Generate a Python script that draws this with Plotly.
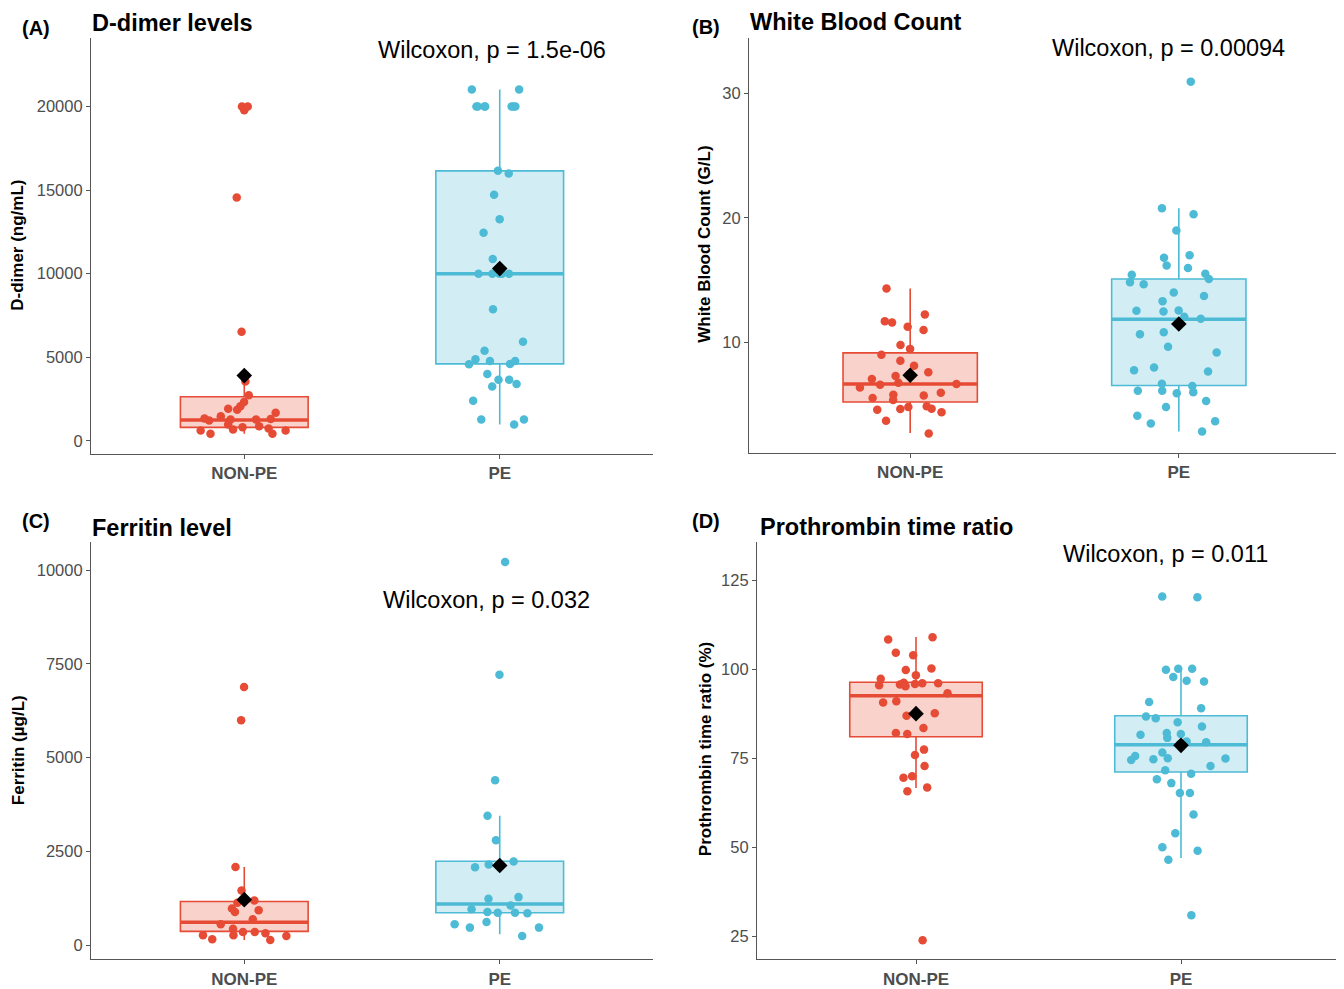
import plotly.graph_objects as go

categories = ["NON-PE", "PE"]

# ---- (A) D-dimer (ng/mL)
ddimer_nonpe = [20000, 19780, 20000, 14560, 6530, 3550, 2720, 2320, 2060, 1860, 1920, 1670,
                1470, 1330, 1310, 1270, 1270, 1210, 970, 870, 810, 675, 615, 420, 420, 615, 730]
ddimer_pe = [21010, 21010, 20000, 20000, 20000, 20000, 20000, 20000, 20000, 16150, 15990, 14720,
             13260, 12440, 10875, 10000, 10000, 10000, 10000, 10000, 7875, 5930, 5380, 4780, 4580,
             4600, 4880, 4780, 3990, 3650, 3650, 3390, 3250, 2400, 1270, 1270, 970]
ddimer_q1 = [800, 4600]
ddimer_median = [1250, 10000]
ddimer_q3 = [2630, 16150]
ddimer_low = [420, 970]
ddimer_high = [3550, 21010]
ddimer_mean = [3900, 10300]

# ---- (B) White blood count (G/L)
wbc_nonpe = [14.32, 12.24, 11.70, 11.25, 11.6, 10.99, 9.79, 9.47, 8.99, 8.51, 8.11, 7.6, 7.41,
             7.28, 7.04, 6.59, 6.64, 6.75, 6.37, 5.73, 5.94, 5.79, 5.36, 5.52, 4.85, 4.64, 4.8,
             4.37, 4.66, 4.58, 3.7, 2.66]
wbc_pe = [30.96, 20.77, 20.29, 18.98, 16.8, 17.0, 15.97, 16.18, 15.52, 15.09, 15.44, 14.66, 14.82,
          14.0, 13.73, 13.31, 12.53, 12.48, 12.56, 12.05, 11.89, 11.52, 10.8, 10.64, 9.65, 9.17,
          7.97, 7.76, 7.65, 6.67, 6.48, 6.11, 6.11, 5.9, 5.98, 5.28, 4.8, 4.1, 3.66, 3.46, 2.82]
wbc_q1 = [5.2, 6.53]
wbc_median = [6.65, 11.86]
wbc_q3 = [9.15, 15.09]
wbc_low = [2.7, 2.82]
wbc_high = [14.32, 20.77]
wbc_mean = [7.35, 11.47]

# ---- (C) Ferritin (µg/L)
ferritin_nonpe = [6885, 6000, 2087, 1460, 1195, 1131, 929, 982, 884, 690, 558, 441, 353, 353,
                  319, 247, 141, 159, 266, 266]
ferritin_pe = [10220, 7210, 4400, 3450, 2796, 2230, 2150, 2080, 1237, 1282, 1062, 956, 866, 866,
               850, 884, 558, 469, 619, 469, 247]
ferritin_q1 = [370, 866]
ferritin_median = [610, 1097]
ferritin_q3 = [1165, 2240]
ferritin_low = [141, 290]
ferritin_high = [2087, 3450]
ferritin_mean = [1215, 2124]

# ---- (D) Prothrombin time ratio (%)
pt_nonpe = [108.96, 108.3, 104.6, 103.9, 100.2, 98.25, 99.75, 97.3, 96.0, 95.7, 96.0, 95.5, 95.8,
            95.2, 96.2, 93.2, 91.0, 90.6, 87.6, 86.9, 83.5, 81.8, 82.1, 77.4, 75.9, 72.8, 69.9,
            69.5, 66.8, 65.7, 23.9]
pt_pe = [120.2, 120.4, 100.1, 99.8, 100.1, 97.8, 96.7, 96.5, 90.8, 89.0, 86.7, 85.1, 86.2, 83.9,
         82.1, 81.6, 81.8, 79.5, 80.7, 79.7, 79.0, 75.6, 74.7, 74.9, 74.5, 75.0, 72.8, 76.6, 71.6,
         70.6, 69.1, 68.0, 65.2, 65.2, 59.2, 53.9, 50.0, 49.0, 46.5, 30.9]
pt_q1 = [81.0, 71.1]
pt_median = [92.5, 78.8]
pt_q3 = [96.3, 86.9]
pt_low = [66.6, 47.0]
pt_high = [109.0, 100.0]
pt_mean = [87.5, 78.6]

panel_letters = ["(A)", "(B)", "(C)", "(D)"]
panel_titles = ["D-dimer levels", "White Blood Count", "Ferritin level", "Prothrombin time ratio"]
y_titles = ["D-dimer (ng/mL)", "White Blood Count (G/L)", "Ferritin (µg/L)", "Prothrombin time ratio (%)"]
p_labels = ["Wilcoxon, p = 1.5e-06", "Wilcoxon, p = 0.00094", "Wilcoxon, p = 0.032", "Wilcoxon, p = 0.011"]

# ---------------------------------------------------------------- styling / layout
# The page body has an 8px default margin, so the figure is drawn 8px in from the
# window corner; reference pixel positions are mapped accordingly.
OFF = 8
W, H = 1344 - OFF, 989 - OFF
RED, BLUE = "#E64B35", "#4DBBD5"
COLORS = [RED, BLUE]
FILLS = ["rgba(230,75,53,0.25)", "rgba(77,187,213,0.25)"]
FONT = "Liberation Sans, Arial, sans-serif"
AXIS_COLOR = "#555555"
TICK_COLOR = "#4d4d4d"
BOX_W = 0.5
TITLE_SIZE = 23.5


def fx(p):
    return (p - OFF) / W


def fy(p):
    return 1 - (p - OFF) / H


panels = [
    dict(samples=[ddimer_nonpe, ddimer_pe], q1=ddimer_q1, med=ddimer_median, q3=ddimer_q3,
         lo=ddimer_low, hi=ddimer_high, mean=ddimer_mean,
         xpx=(91, 653), ypx=(38, 456), yrange=(-774, 24107), dtick=5000,
         letter_xy=(36, 28), title_xy=(91, 20), ytitle_xy=(18, 247), p_xy=(492, 50)),
    dict(samples=[wbc_nonpe, wbc_pe], q1=wbc_q1, med=wbc_median, q3=wbc_q3,
         lo=wbc_low, hi=wbc_high, mean=wbc_mean,
         xpx=(749, 1340), ypx=(38, 455), yrange=(1.12, 34.48), dtick=10,
         letter_xy=(706, 27), title_xy=(749, 19), ytitle_xy=(705, 246), p_xy=(1168, 48)),
    dict(samples=[ferritin_nonpe, ferritin_pe], q1=ferritin_q1, med=ferritin_median, q3=ferritin_q3,
         lo=ferritin_low, hi=ferritin_high, mean=ferritin_mean,
         xpx=(91, 653), ypx=(545, 964), yrange=(-371, 10743), dtick=2500,
         letter_xy=(36, 524), title_xy=(91, 528), ytitle_xy=(18, 754), p_xy=(486, 603)),
    dict(samples=[pt_nonpe, pt_pe], q1=pt_q1, med=pt_median, q3=pt_q3,
         lo=pt_low, hi=pt_high, mean=pt_mean,
         xpx=(757, 1340), ypx=(545, 964), yrange=(18.6, 135.6), dtick=25,
         letter_xy=(706, 524), title_xy=(759, 527), ytitle_xy=(705, 753), p_xy=(1165, 557)),
]

fig = go.Figure()
shapes = []
annotations = []
layout_axes = {}

for i, pnl in enumerate(panels):
    sfx = "" if i == 0 else str(i + 1)
    xa, ya = "x" + sfx, "y" + sfx
    for g in range(len(categories)):
        # summary box (stats)
        fig.add_trace(go.Box(
            x=[g], q1=[pnl["q1"][g]], median=[pnl["med"][g]], q3=[pnl["q3"][g]],
            lowerfence=[pnl["lo"][g]], upperfence=[pnl["hi"][g]],
            width=BOX_W, fillcolor=FILLS[g], line=dict(color=COLORS[g], width=1.6),
            whiskerwidth=0, boxpoints=False, orientation="v",
            xaxis=xa, yaxis=ya, showlegend=False, hoverinfo="skip"))
        # thick median line (drawn below the semi-transparent box)
        shapes.append(dict(type="line", xref=xa, yref=ya, layer="below",
                           x0=g - BOX_W / 2, x1=g + BOX_W / 2,
                           y0=pnl["med"][g], y1=pnl["med"][g],
                           line=dict(color=COLORS[g], width=3.5)))
        # jittered individual points
        fig.add_trace(go.Box(
            y=pnl["samples"][g], x0=g, width=BOX_W, boxpoints="all", jitter=0.85, pointpos=0,
            fillcolor="rgba(0,0,0,0)", line=dict(color="rgba(0,0,0,0)", width=0),
            marker=dict(color=COLORS[g], size=8.5, opacity=1, line=dict(width=0)),
            whiskerwidth=0, xaxis=xa, yaxis=ya, showlegend=False, hoveron="points"))
    # mean diamonds
    fig.add_trace(go.Scatter(
        x=list(range(len(categories))), y=pnl["mean"], mode="markers",
        marker=dict(symbol="diamond", size=12, color="black"),
        xaxis=xa, yaxis=ya, showlegend=False))

    x0, x1 = pnl["xpx"]
    ytop, ybot = pnl["ypx"]
    layout_axes["xaxis" + sfx] = dict(
        domain=[fx(x0), fx(x1)], anchor=ya, range=[-0.6, 1.6],
        tickvals=list(range(len(categories))), ticktext=categories,
        showline=True, linecolor=AXIS_COLOR, linewidth=1.2, ticks="outside", ticklen=4,
        tickcolor=AXIS_COLOR, showgrid=False, zeroline=False,
        tickfont=dict(family=FONT, size=17, color=TICK_COLOR, weight="bold"))
    layout_axes["yaxis" + sfx] = dict(
        domain=[fy(ybot), fy(ytop)], anchor=xa, range=list(pnl["yrange"]),
        dtick=pnl["dtick"], tick0=0, tickformat="d", showline=True, linecolor=AXIS_COLOR,
        linewidth=1.2, ticks="outside", ticklen=4, tickcolor=AXIS_COLOR, showgrid=False,
        zeroline=False, tickfont=dict(family=FONT, size=16.5, color=TICK_COLOR))

    lx, ly = pnl["letter_xy"]
    annotations.append(dict(text="<b>" + panel_letters[i] + "</b>", x=fx(lx), y=fy(ly),
                            xref="paper", yref="paper", xanchor="center", yanchor="middle",
                            showarrow=False, borderpad=0,
                            font=dict(family=FONT, size=20, color="black")))
    # title: anchored by its top edge (kept inside the figure)
    tx, ty = pnl["title_xy"]
    title_top = max(OFF, ty - 11)
    annotations.append(dict(text="<b>" + panel_titles[i] + "</b>", x=fx(tx), y=fy(title_top),
                            xref="paper", yref="paper", xanchor="left", yanchor="top",
                            showarrow=False, borderpad=0,
                            font=dict(family=FONT, size=TITLE_SIZE, color="black")))
    yx, yy = pnl["ytitle_xy"]
    annotations.append(dict(text="<b>" + y_titles[i] + "</b>", x=fx(yx), y=fy(yy),
                            xref="paper", yref="paper", xanchor="center", yanchor="middle",
                            textangle=-90, showarrow=False,
                            font=dict(family=FONT, size=17, color="black")))
    px_, py_ = pnl["p_xy"]
    annotations.append(dict(text=p_labels[i], x=fx(px_), y=fy(py_),
                            xref="paper", yref="paper", xanchor="center", yanchor="middle",
                            showarrow=False, font=dict(family=FONT, size=23.5, color="black")))

fig.update_layout(
    width=W, height=H, margin=dict(l=0, r=0, t=0, b=0),
    paper_bgcolor="white", plot_bgcolor="white", boxmode="overlay",
    showlegend=False, shapes=shapes, annotations=annotations,
    font=dict(family=FONT), **layout_axes)

fig.write_html("out.html")
